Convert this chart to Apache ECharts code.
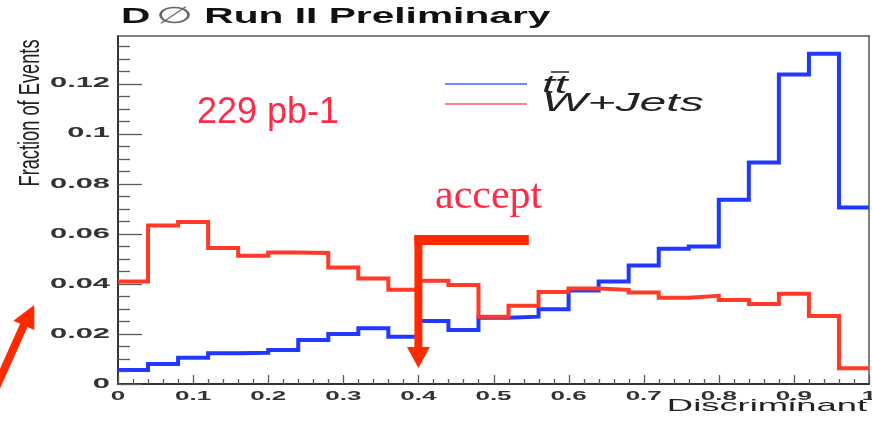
<!DOCTYPE html>
<html>
<head>
<meta charset="utf-8">
<title>D0 Run II Preliminary - Discriminant</title>
<script src="https://cdn.jsdelivr.net/npm/echarts@6/dist/echarts.min.js"></script>
<style>
  html, body { margin: 0; padding: 0; background: #ffffff; }
  #chart { width: 872px; height: 421px; }
</style>
</head>
<body>
<div id="chart"></div>
<script>
// Discriminant histograms: 25 bins of width 0.04 over [0, 1], normalised to unit area
const binWidth = 0.04;
const ttbar = [
  0.0056, 0.0080, 0.0105, 0.0123, 0.0125, 0.0136, 0.0176, 0.0200, 0.0223, 0.0189,
  0.0252, 0.0216, 0.0265, 0.0269, 0.0299, 0.0373, 0.0409, 0.0473, 0.0540, 0.0549,
  0.0736, 0.0885, 0.1236, 0.1319, 0.0705
];
const wjets = [
  0.0409, 0.0633, 0.0647, 0.0543, 0.0512, 0.0525, 0.0523, 0.0465, 0.0421, 0.0376,
  0.0412, 0.0395, 0.0269, 0.0313, 0.0367, 0.0381, 0.0376, 0.0365, 0.0345, 0.0352,
  0.0336, 0.0320, 0.0360, 0.0272, 0.0063
];
const xTickLabels = ['0', '0.1', '0.2', '0.3', '0.4', '0.5', '0.6', '0.7', '0.8', '0.9', '1'];
const yTickLabels = ['0', '0.02', '0.04', '0.06', '0.08', '0.1', '0.12'];

// Cut annotation ("accept" marker) in data units
const cutValue = 0.4;
const acceptBarEnd = 0.547;
const acceptBarLevel = 0.0575;
const cutArrowTip = 0.0064;

const blue = '#2138ff';
const red = '#ff3a26';
const noteRed = '#ff2a48';

const xMin = 0, xMax = 1, yMin = 0, yMax = 0.139;
const xMinorStep = 0.02, yMinorStep = 0.005;

// Histogram outline: one point at each bin's low edge, plus the upper edge of the last bin
function outline(values) {
  const pts = values.map((v, i) => [+(i * binWidth).toFixed(2), v]);
  pts.push([+(values.length * binWidth).toFixed(2), values[values.length - 1]]);
  return pts;
}

const chart = echarts.init(document.getElementById('chart'), null, { renderer: 'canvas' });

const frameAxis = {
  type: 'value', show: true,
  axisLine: { show: true, onZero: false, lineStyle: { color: '#555', width: 1.5 } },
  axisTick: { show: false }, minorTick: { show: false },
  axisLabel: { show: false }, splitLine: { show: false }
};

chart.setOption({
  animation: false,
  backgroundColor: '#ffffff',
  grid: { left: 118, right: 3, top: 36, bottom: 37, show: false },
  xAxis: [
    {
      type: 'value', min: xMin, max: xMax, interval: 0.1, position: 'bottom',
      axisLine: { show: true, onZero: false, lineStyle: { color: '#333', width: 2 } },
      axisTick: { show: false }, minorTick: { show: false },
      axisLabel: { show: false }, splitLine: { show: false }
    },
    Object.assign({}, frameAxis, { min: xMin, max: xMax, position: 'top' })
  ],
  yAxis: [
    {
      type: 'value', min: yMin, max: yMax, interval: 0.02, position: 'left',
      axisLine: { show: true, onZero: false, lineStyle: { color: '#333', width: 2 } },
      axisTick: { show: false }, minorTick: { show: false },
      axisLabel: { show: false }, splitLine: { show: false }
    },
    Object.assign({}, frameAxis, { min: yMin, max: yMax, position: 'right' })
  ],
  series: [
    {
      name: 'ttbar', type: 'line', step: 'end', data: outline(ttbar),
      showSymbol: false, symbol: 'none', clip: true,
      lineStyle: { color: blue, width: 4, join: 'miter' }, z: 3
    },
    {
      name: 'W+Jets', type: 'line', step: 'end', data: outline(wjets),
      showSymbol: false, symbol: 'none', clip: true,
      lineStyle: { color: red, width: 4, join: 'miter' }, z: 4
    },
    {
      name: 'accept', type: 'custom', clip: false, z: 6,
      data: [[cutValue, acceptBarLevel, acceptBarEnd, cutArrowTip]],
      renderItem: function (params, api) {
        const cut = api.coord([api.value(0), api.value(1)]);
        const barEnd = api.coord([api.value(2), api.value(1)]);
        const tip = api.coord([api.value(0), api.value(3)]);
        const half = 5;          // half thickness of the horizontal bar
        const shaftHalf = 4;     // half width of the vertical shaft
        const headLen = 21, headHalf = 11.5;
        const top = cut[1] - half;
        return {
          type: 'group',
          children: [
            { type: 'rect', shape: { x: cut[0] - shaftHalf, y: top, width: barEnd[0] - cut[0] + shaftHalf, height: half * 2 },
              style: { fill: '#ff2a00' } },
            { type: 'rect', shape: { x: cut[0] - shaftHalf, y: top, width: shaftHalf * 2, height: tip[1] - headLen - top + 1 },
              style: { fill: '#ff2a00' } },
            { type: 'polygon', shape: { points: [[tip[0] - headHalf, tip[1] - headLen], [tip[0] + headHalf, tip[1] - headLen], [tip[0], tip[1]]] },
              style: { fill: '#ff2a00' } }
          ]
        };
      }
    }
  ]
});

// Text, ticks and decorations, placed once the axes are laid out
const elements = [];
const tickGrey = '#5a5a5a';
const isMajor = (list, v) => list.some(m => Math.abs(Number(m) - v) < 1e-9);
const xAxisY = chart.convertToPixel({ yAxisIndex: 0 }, yMin);
const yAxisX = chart.convertToPixel({ xAxisIndex: 0 }, xMin);

// Inward ticks along the x axis
for (let k = 0; k * xMinorStep <= xMax + 1e-9; k++) {
  const v = +(k * xMinorStep).toFixed(3);
  const px = Math.round(chart.convertToPixel({ xAxisIndex: 0 }, v)) + 0.5;
  const len = isMajor(xTickLabels, v) ? 9 : 5;
  elements.push({ type: 'line', silent: true, z: 10,
                  shape: { x1: px, y1: xAxisY, x2: px, y2: xAxisY - len },
                  style: { stroke: tickGrey, lineWidth: 1.3 } });
}
// Inward ticks along the y axis
for (let k = 0; k * yMinorStep <= yMax + 1e-9; k++) {
  const v = +(k * yMinorStep).toFixed(4);
  const py = Math.round(chart.convertToPixel({ yAxisIndex: 0 }, v)) + 0.5;
  const len = isMajor(yTickLabels, v) ? 24 : 12;
  elements.push({ type: 'line', silent: true, z: 10,
                  shape: { x1: yAxisX, y1: py, x2: yAxisX + len, y2: py },
                  style: { stroke: tickGrey, lineWidth: 1.3 } });
}

xTickLabels.forEach(function (lab) {
  const px = chart.convertToPixel({ xAxisIndex: 0 }, Number(lab));
  elements.push({
    type: 'text', x: px, y: 396, scaleX: 2.0, silent: true,
    style: { text: lab, fontFamily: 'Liberation Sans', fontWeight: 'bold', fontSize: 13,
             fill: '#333', align: 'center', verticalAlign: 'middle' }
  });
});
yTickLabels.forEach(function (lab) {
  const py = chart.convertToPixel({ yAxisIndex: 0 }, Number(lab));
  elements.push({
    type: 'text', x: 110, y: py, scaleX: 2.2, silent: true,
    style: { text: lab, fontFamily: 'Liberation Sans', fontWeight: 'bold', fontSize: 14,
             fill: '#333', align: 'right', verticalAlign: 'middle' }
  });
});

// Title
elements.push({
  type: 'text', x: 121, y: 17, scaleX: 1.85, silent: true,
  style: {
    text: '{b|D}{o|\u2205}{b| Run II Preliminary}', align: 'left', verticalAlign: 'middle',
    rich: {
      b: { fontFamily: 'Liberation Sans', fontWeight: 'bold', fontSize: 22, fill: '#111' },
      o: { fontFamily: 'DejaVu Sans', fontWeight: 'normal', fontSize: 23, fill: '#666', padding: [0, 0, 0, 3] }
    }
  }
});

// Axis titles
elements.push({
  type: 'text', x: 31, y: 113, rotation: Math.PI / 2, scaleX: 1.14, scaleY: 1.85, silent: true,
  style: { text: 'Fraction of Events', fontFamily: 'Liberation Sans', fontSize: 16,
           fill: '#222', align: 'center', verticalAlign: 'middle' }
});
elements.push({
  type: 'text', x: 867, y: 406, scaleX: 2.14, silent: true,
  style: { text: 'Discriminant', fontFamily: 'Liberation Sans', fontSize: 17,
           fill: '#222', align: 'right', verticalAlign: 'middle' }
});

// Legend
elements.push({ type: 'line', silent: true, shape: { x1: 445, y1: 84, x2: 527, y2: 84 },
                style: { stroke: '#4a5cff', lineWidth: 1.5 } });
elements.push({ type: 'line', silent: true, shape: { x1: 445, y1: 104, x2: 527, y2: 104 },
                style: { stroke: '#ff5a5a', lineWidth: 1.5 } });
elements.push({
  type: 'text', x: 542, y: 86, scaleX: 1.85, silent: true,
  style: { text: 'tt', fontFamily: 'Liberation Sans', fontStyle: 'italic', fontSize: 25,
           fill: '#222', align: 'left', verticalAlign: 'middle' }
});
elements.push({ type: 'line', silent: true, shape: { x1: 551, y1: 72, x2: 569, y2: 72 },
                style: { stroke: '#222', lineWidth: 1.5 } });
elements.push({
  type: 'text', x: 542, y: 103.5, scaleX: 1.85, silent: true,
  style: { text: 'W+Jets', fontFamily: 'Liberation Sans', fontStyle: 'italic', fontSize: 26,
           fill: '#222', align: 'left', verticalAlign: 'middle' }
});

// Annotations
elements.push({
  type: 'text', x: 197, y: 113, silent: true,
  style: { text: '229 pb-1', fontFamily: 'Liberation Sans', fontSize: 36,
           fill: noteRed, align: 'left', verticalAlign: 'middle' }
});
elements.push({
  type: 'text', x: 435, y: 197, silent: true,
  style: { text: 'accept', fontFamily: 'Liberation Serif', fontSize: 42,
           fill: noteRed, align: 'left', verticalAlign: 'middle' }
});

// Pointer arrow at the lower left
elements.push({ type: 'line', silent: true, shape: { x1: -6, y1: 392, x2: 24, y2: 325 },
                style: { stroke: '#ff2a00', lineWidth: 8 } });
elements.push({ type: 'polygon', silent: true,
                shape: { points: [[34.3, 305], [13.3, 320.7], [34.3, 330]] },
                style: { fill: '#ff2a00' } });

chart.setOption({ graphic: { elements: elements } });
</script>
</body>
</html>
